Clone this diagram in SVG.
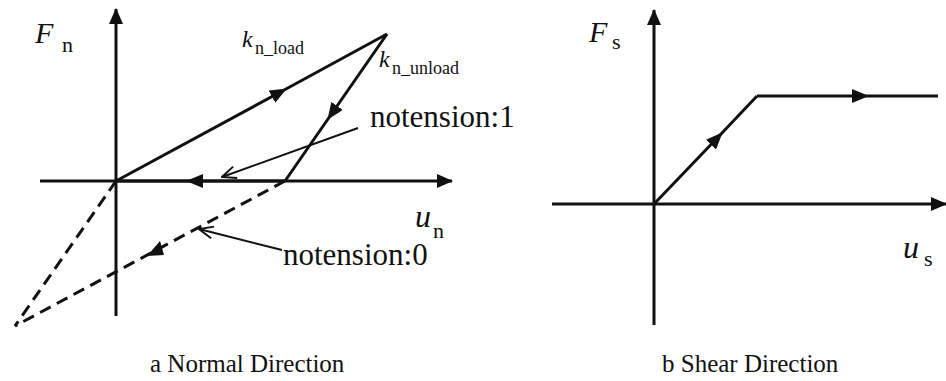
<svg xmlns="http://www.w3.org/2000/svg" width="946" height="381" viewBox="0 0 946 381">
<style>
.ax{stroke:#111;stroke-width:3;fill:none}
.ln{stroke:#111;stroke-width:3;fill:none;stroke-linejoin:round}
.ds{stroke:#111;stroke-width:3;fill:none;stroke-dasharray:12 7}
.ld{stroke:#111;stroke-width:2;fill:none}
.t{font-family:"Liberation Serif","Times New Roman","DejaVu Serif",serif;fill:#111}
.it{font-style:italic}
</style>
<defs>
<marker id="axh" viewBox="0 0 16 14" refX="15" refY="7" markerWidth="16" markerHeight="14" markerUnits="userSpaceOnUse" orient="auto"><path d="M0,0 L16,7 L0,14 Z" fill="#111"/></marker>
<marker id="mid" viewBox="0 0 17 14" refX="16" refY="7" markerWidth="17" markerHeight="14" markerUnits="userSpaceOnUse" orient="auto"><path d="M0,0 L17,7 L0,14 Z" fill="#111"/></marker>
<marker id="open" viewBox="0 0 16 14" refX="15" refY="7" markerWidth="16" markerHeight="14" markerUnits="userSpaceOnUse" orient="auto"><path d="M1,1 L15,7 L1,13" fill="none" stroke="#111" stroke-width="2"/></marker>
</defs>
<g id="panel-a">
<g id="axes-a">
<path class="ax" d="M116,316 L116,9" marker-end="url(#axh)"/>
<path class="ax" d="M40,181 L452,181" marker-end="url(#axh)"/>
</g>
<g id="connectors-a">
<path class="ln" d="M116,181 L286,89 L387,34" marker-mid="url(#mid)"/>
<path class="ln" d="M387,34 L328,119 L285,181" marker-mid="url(#mid)"/>
<path class="ln" d="M285,181 L187,181 L116,181" marker-mid="url(#mid)"/>
<path class="ds" d="M116,181 L15,326"/>
<path class="ds" d="M285,181 L15,326"/>
<path d="M147,256 L164,255 L160,241 Z" fill="#111"/>
<path class="ld" d="M358,128 L222,177" marker-end="url(#open)"/>
<path class="ld" d="M282,250 L199,229" marker-end="url(#open)"/>
</g>
<g id="labels-a">
<text class="t it" x="35" y="43" font-size="30">F</text>
<text class="t" x="62" y="52" font-size="22">n</text>
<text class="t it" x="242" y="47" font-size="24">k</text>
<text class="t" x="255" y="54" font-size="18">n_load</text>
<text class="t it" x="379" y="67" font-size="24">k</text>
<text class="t" x="392" y="74" font-size="18">n_unload</text>
<text class="t" x="370" y="127" font-size="31">notension:1</text>
<text class="t" x="283" y="265" font-size="31">notension:0</text>
<text class="t it" x="415" y="227" font-size="32">u</text>
<text class="t" x="433" y="238" font-size="22">n</text>
<text class="t" x="150" y="372" font-size="25">a Normal Direction</text>
</g>
</g>
<g id="panel-b">
<g id="axes-b">
<path class="ax" d="M654,325 L654,10" marker-end="url(#axh)"/>
<path class="ax" d="M552,204 L946,204" marker-end="url(#axh)"/>
</g>
<g id="connectors-b">
<path class="ln" d="M654,204 L722,133 L757,96" marker-mid="url(#mid)"/>
<path class="ln" d="M757,96 L868,96 L938,96" marker-mid="url(#mid)"/>
</g>
<g id="labels-b">
<text class="t it" x="589" y="42" font-size="30">F</text>
<text class="t" x="612" y="49" font-size="22">s</text>
<text class="t it" x="903" y="258" font-size="32">u</text>
<text class="t" x="924" y="266" font-size="22">s</text>
<text class="t" x="662" y="372" font-size="25">b Shear Direction</text>
</g>
</g>
</svg>
